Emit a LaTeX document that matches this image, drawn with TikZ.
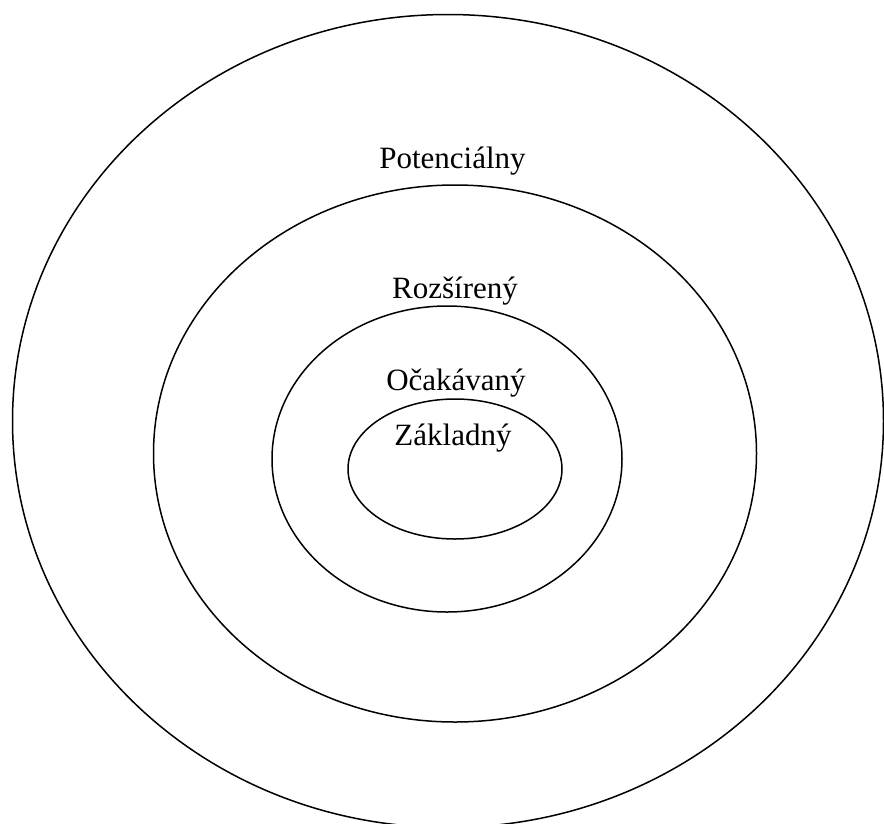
\documentclass[tikz,border=0pt]{standalone}
\usepackage{fontspec}
\setmainfont{Liberation Serif}
\usetikzlibrary{shapes.geometric}
\begin{document}
\begin{tikzpicture}[x=1pt,y=-1pt,
  ring/.style={draw, ellipse, line width=1.5pt, inner sep=0pt},
  lbl/.style={anchor=base, inner sep=0pt, font=\fontsize{31}{37}\selectfont}]
  \clip (0,0) rectangle (884,823);
  \useasboundingbox (0,0) rectangle (884,823);
  % concentric levels of the product
  \node[ring, minimum width=871pt, minimum height=813pt] (potential) at (448,421) {};
  \node[ring, minimum width=603pt, minimum height=537pt] (augmented) at (455,453.5) {};
  \node[ring, minimum width=350pt, minimum height=306pt] (expected) at (447,459) {};
  \node[ring, minimum width=214pt, minimum height=140pt] (core) at (455,469) {};
  % level names
  \node[lbl] (tpotential) at (452.5,168) {Potenciálny};
  \node[lbl] (taugmented) at (455,298) {Rozšírený};
  \node[lbl] (texpected) at (456,390) {Očakávaný};
  \node[lbl] (tcore) at (453,445) {Základný};
\end{tikzpicture}
\end{document}
